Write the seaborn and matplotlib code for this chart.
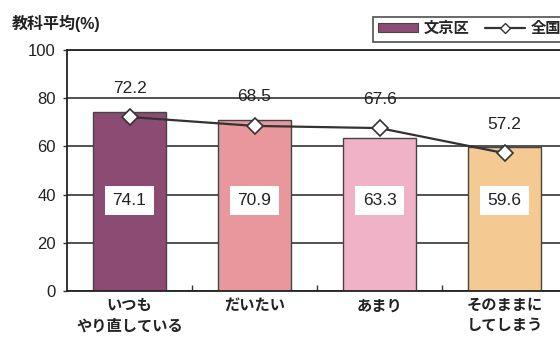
import matplotlib
matplotlib.use("Agg")
import matplotlib.pyplot as plt
import seaborn as sns
import pandas as pd
from matplotlib.patches import Patch
from matplotlib.lines import Line2D

categories = ["いつも\nやり直している", "だいたい", "あまり", "そのままに\nしてしまう"]
bunkyo = [74.1, 70.9, 63.3, 59.6]
national = [72.2, 68.5, 67.6, 57.2]
bar_colors = ["#8C4B72", "#E8979C", "#F0B2C6", "#F4CA92"]
series_names = ["文京区", "全国"]
y_ticks = [0, 20, 40, 60, 80, 100]
title = "教科平均(%)"

sns.set_theme(style="white")
plt.rcParams['font.family'] = ['Liberation Sans', 'Noto Sans CJK JP', 'DejaVu Sans']
plt.rcParams['axes.unicode_minus'] = False

df = pd.DataFrame({"cat": categories, "bunkyo": bunkyo, "national": national})

fig = plt.figure(figsize=(5.6, 3.38), dpi=100)
fig.patch.set_facecolor("white")
ax = fig.add_axes([67/560, 1-291/338, 500/560, 241/338])

ax.set_axisbelow(True)
ax.yaxis.grid(True, color="#333333", linewidth=1.2)
ax.xaxis.grid(False)

sns.barplot(data=df, x="cat", y="bunkyo", hue="cat", palette=bar_colors,
            width=0.59, edgecolor="#444444", linewidth=1.0, legend=False,
            saturation=1, ax=ax, zorder=2)

sns.pointplot(data=df, x="cat", y="national", color="#333333", marker="D",
              markersize=8, linewidth=1.6, errorbar=None, ax=ax,
              markerfacecolor="white", markeredgecolor="#333333",
              markeredgewidth=1.2, zorder=4)

for i, v in enumerate(national):
    ax.text(i, v + 12, f"{v:.1f}", ha="center", va="center", fontsize=12.5,
            color="#222222", zorder=5)
for i, v in enumerate(bunkyo):
    ax.text(i, 37.5, f"{v:.1f}", ha="center", va="center", fontsize=12.5,
            color="#222222", zorder=5,
            bbox=dict(boxstyle="square,pad=0.42", facecolor="white",
                      edgecolor="none"))

ax.set_ylim(0, 100)
ax.set_xlim(-0.5, 3.5)
ax.set_yticks(y_ticks)
ax.set_yticklabels([str(t) for t in y_ticks], fontsize=12, color="#222222")
ax.set_xticks(range(len(categories)))
ax.set_xticklabels(categories, fontsize=11, fontweight="bold",
                   color="#222222", linespacing=1.55)
ax.tick_params(axis="x", length=0, pad=6)
ax.tick_params(axis="y", length=3, width=1, color="#333333", pad=5, left=True)
ax.set_xticks([0.5, 1.5, 2.5], minor=True)
ax.tick_params(axis="x", which="minor", direction="in", length=4,
               color="#333333", bottom=True)
ax.set_xlabel("")
ax.set_ylabel("")

for s in ["left", "bottom", "top", "right"]:
    ax.spines[s].set_visible(True)
    ax.spines[s].set_color("#222222")
    ax.spines[s].set_linewidth(1.3)

fig.text(12/560, 1-23/338, title, fontsize=11.5, fontweight="bold",
         color="#222222", va="center", ha="left")

handles = [Patch(facecolor=bar_colors[0], edgecolor="#444444", linewidth=0.8),
           Line2D([0], [0], color="#333333", linewidth=1.6, marker="D",
                  markersize=5, markerfacecolor="white",
                  markeredgecolor="#333333")]
leg = fig.legend(handles, series_names, loc="upper left",
                 bbox_to_anchor=(365/560, 1-9/338), ncol=2, frameon=True,
                 fancybox=False, edgecolor="#222222",
                 handlelength=2.6, handleheight=0.5, borderpad=0.35,
                 columnspacing=1.0, handletextpad=0.4,
                 prop={"weight": "bold", "size": 11})
leg.get_frame().set_linewidth(1.2)

fig.savefig("out.png", dpi=100, facecolor="white")
